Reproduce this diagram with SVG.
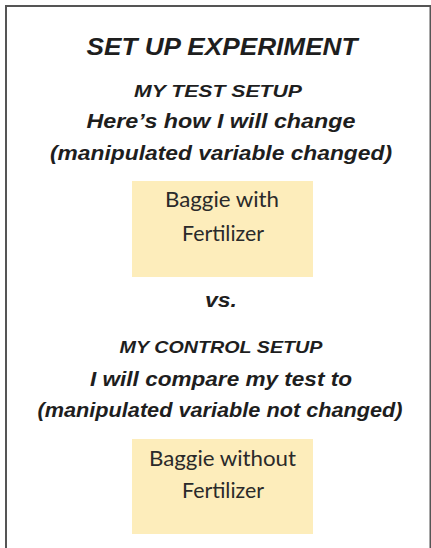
<svg xmlns="http://www.w3.org/2000/svg" width="431" height="548" viewBox="0 0 431 548">
<style>
.h{font-family:"Liberation Sans","DejaVu Sans",sans-serif;font-weight:bold;font-style:italic;fill:#1e1e1e;text-anchor:middle}
.b{font-family:Lato,"Liberation Sans",sans-serif;font-size:21px;fill:#2a2a2a;text-anchor:middle}
.box{fill:#fdedbb}
</style>
<rect width="431" height="548" fill="#fff"/>
<path d="M6 549 V6 H430.5 V549" fill="none" stroke="#555" stroke-width="2"/>
<g id="titles">
<text class="h" x="222" y="55" font-size="23" textLength="271" lengthAdjust="spacingAndGlyphs">SET UP EXPERIMENT</text>
<text class="h" x="218" y="97" font-size="17" textLength="168" lengthAdjust="spacingAndGlyphs">MY TEST SETUP</text>
<text class="h" x="221" y="128" font-size="20" textLength="269" lengthAdjust="spacingAndGlyphs">Here’s how I will change</text>
<text class="h" x="221" y="160" font-size="20" textLength="342" lengthAdjust="spacingAndGlyphs">(manipulated variable changed)</text>
</g>
<g id="test-box">
<rect class="box" x="132" y="181" width="181" height="96"/>
<text class="b" x="222" y="207" textLength="114" lengthAdjust="spacingAndGlyphs">Baggie with</text>
<text class="b" x="223" y="241" textLength="82" lengthAdjust="spacingAndGlyphs">Fertilizer</text>
</g>
<g id="vs">
<text class="h" x="221" y="307" font-size="20" textLength="32" lengthAdjust="spacingAndGlyphs">vs.</text>
</g>
<g id="control-titles">
<text class="h" x="221" y="353" font-size="17" textLength="203" lengthAdjust="spacingAndGlyphs">MY CONTROL SETUP</text>
<text class="h" x="221" y="386" font-size="20" textLength="262" lengthAdjust="spacingAndGlyphs">I will compare my test to</text>
<text class="h" x="220" y="417" font-size="20" textLength="365" lengthAdjust="spacingAndGlyphs">(manipulated variable not changed)</text>
</g>
<g id="control-box">
<rect class="box" x="132" y="439" width="181" height="95"/>
<text class="b" x="222.5" y="466" textLength="147" lengthAdjust="spacingAndGlyphs">Baggie without</text>
<text class="b" x="223" y="498" textLength="82" lengthAdjust="spacingAndGlyphs">Fertilizer</text>
</g>
<g id="connectors"></g>
</svg>
